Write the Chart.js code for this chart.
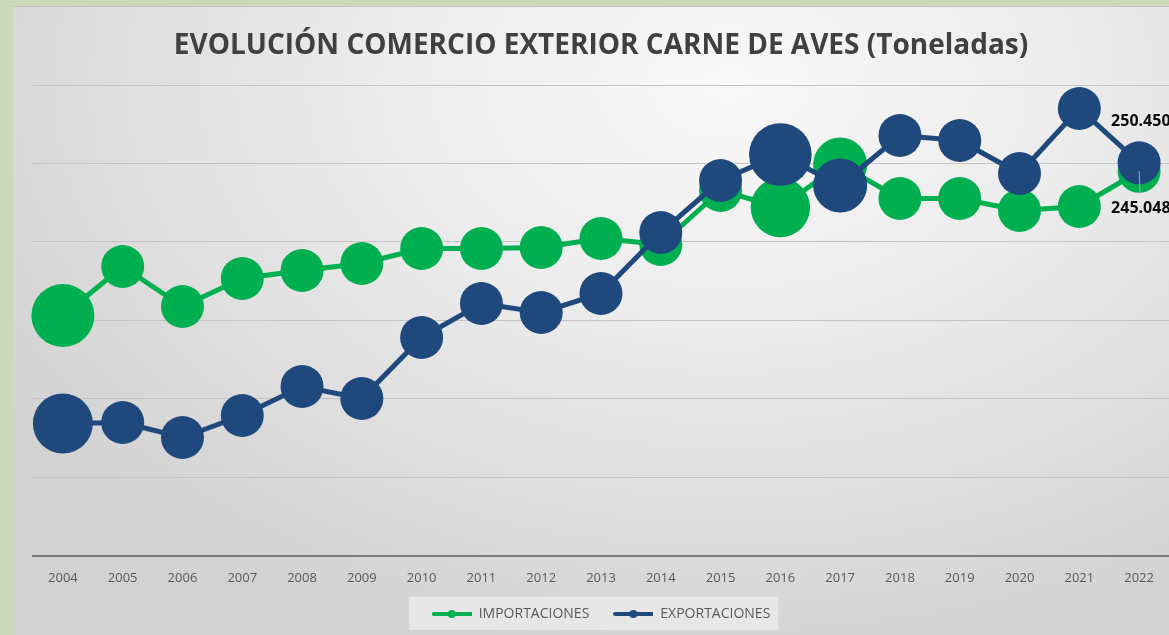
<!DOCTYPE html>
<html>
<head>
<meta charset="utf-8">
<script src="https://cdn.jsdelivr.net/npm/chart.js@4.4.1/dist/chart.umd.min.js"></script>
<style>
    html, body { margin: 0; padding: 0; }
    body { width: 1169px; height: 635px; background: #cbd9b8; position: relative; overflow: hidden; }
    #panel {
        position: absolute; left: 13px; top: 6px; width: 1156px; height: 629px;
        border-top: 1px solid #c2c2c2;
        background: radial-gradient(ellipse 75% 95% at 62% 12%, #f8f8f8 0%, #ececec 40%, #dadada 80%, #d2d2d2 100%);
    }
</style>
</head>
<body>
<div id="panel"><canvas id="chart"></canvas></div>
<script>
// datos (toneladas)
const years = ['2004','2005','2006','2007','2008','2009','2010','2011','2012','2013',
               '2014','2015','2016','2017','2018','2019','2020','2021','2022'];
const importaciones = [153062, 184313, 158802, 176660, 181762, 186226, 195792, 195792, 196430, 202170,
                       198343, 232782, 221940, 249364, 227680, 227680, 220027, 222578, 245048];
const exportaciones = [84184, 84822, 75256, 89286, 107781, 100128, 139032, 160716, 154976, 167093,
                       205996, 239160, 255742, 235971, 267859, 264670, 243624, 285079, 250450];

const GREEN = '#00b050';
const BLUE = '#1f497d';

function legendMarker(color) {
    var c = document.createElement('canvas');
    c.width = 40; c.height = 10;
    var g = c.getContext('2d');
    g.strokeStyle = color; g.lineWidth = 4; g.lineCap = 'round';
    g.beginPath(); g.moveTo(2, 5); g.lineTo(39, 5); g.stroke();
    g.fillStyle = color;
    g.beginPath(); g.arc(20, 5, 4, 0, Math.PI * 2); g.fill();
    return c;
}
const markers = [legendMarker(GREEN), legendMarker(BLUE)];

function fmt(v) {
    return String(v).replace(/\B(?=(\d{3})+(?!\d))/g, '.');
}

// fondo del recuadro de la leyenda
const legendBox = {
    id: 'legendBox',
    beforeDraw(chart) {
        var boxes = chart.legend.legendHitBoxes;
        if (!boxes || !boxes.length) return;
        var l = Math.min(...boxes.map(b => b.left)) - 23;
        var r = Math.max(...boxes.map(b => b.left + b.width)) + 8;
        var ctx = chart.ctx;
        ctx.save();
        ctx.fillStyle = 'rgba(232,232,232,0.95)';
        ctx.fillRect(l, 590, r - l, 33);
        ctx.restore();
    }
};

// etiquetas del ultimo año
const lastLabels = {
    id: 'lastLabels',
    afterDatasetsDraw(chart) {
        var ctx = chart.ctx;
        var n = years.length - 1;
        var pImp = chart.getDatasetMeta(0).data[n];
        var pExp = chart.getDatasetMeta(1).data[n];
        ctx.save();
        ctx.strokeStyle = '#a6a6a6';
        ctx.lineWidth = 1;
        ctx.beginPath();
        ctx.moveTo(pImp.x, pImp.y);
        ctx.lineTo(pImp.x + 1, pImp.y + 22);
        ctx.stroke();
        ctx.font = 'bold 16px "Open Sans"';
        ctx.fillStyle = '#0d0d0d';
        ctx.textBaseline = 'middle';
        ctx.textAlign = 'left';
        ctx.fillText(fmt(exportaciones[n]), pExp.x - 28, pExp.y - 41);
        ctx.fillText(fmt(importaciones[n]), pImp.x - 28, pImp.y + 37);
        ctx.restore();
    }
};

new Chart('chart', {
    type: 'line',
    data: {
        labels: years,
        datasets: [{
            label: 'IMPORTACIONES',
            data: importaciones,
            borderColor: GREEN,
            backgroundColor: GREEN,
            borderWidth: 5,
            pointBorderWidth: 0,
            pointRadius: [31.5, 21.5, 21.5, 21.5, 21.5, 21.5, 21.5, 21.5, 21.5, 21.5,
                          21.5, 21.5, 29.7, 27, 21.5, 21.5, 21.5, 21.5, 21.5],
            lineTension: 0,
            order: 1
        },
        {
            label: 'EXPORTACIONES',
            data: exportaciones,
            borderColor: BLUE,
            backgroundColor: BLUE,
            borderWidth: 5,
            pointBorderWidth: 0,
            pointRadius: [30, 21.5, 21.5, 21.5, 21.5, 21.5, 21.5, 21.5, 21.5, 21.5,
                          21.5, 21.5, 31.3, 27, 21.5, 21.5, 21.5, 21.5, 21.5],
            lineTension: 0,
            order: 0
        }]
    },
    options: {
        responsive: true,
        maintainAspectRatio: false,
        animation: false,
        clip: false,
        layout: { autoPadding: false, padding: { left: 20, right: 0, top: 0, bottom: 5 } },
        plugins: {
            tooltip: { enabled: false },
            title: {
                display: true,
                text: 'EVOLUCIÓN COMERCIO EXTERIOR CARNE DE AVES (Toneladas)',
                color: '#404040',
                font: { family: 'Open Sans', size: 28, weight: 'bold', lineHeight: 1.2 },
                padding: { top: 22, bottom: 22.5 }
            },
            legend: {
                position: 'bottom',
                labels: {
                    usePointStyle: true,
                    pointStyleWidth: 40,
                    padding: 24,
                    color: '#595959',
                    font: { family: 'Open Sans', size: 14 },
                    sort: (a, b) => a.datasetIndex - b.datasetIndex,
                    generateLabels(chart) {
                        var items = Chart.defaults.plugins.legend.labels.generateLabels(chart);
                        items.forEach(it => { it.pointStyle = markers[it.datasetIndex]; });
                        return items;
                    }
                }
            }
        },
        scales: {
            x: {
                offset: true,
                grid: { display: false },
                border: { display: true, color: '#7a7a7a', width: 2 },
                ticks: { color: '#595959', padding: 7, font: { family: 'Open Sans', size: 13 } },
                afterFit(scale) { scale.height = 27.5; }
            },
            y: {
                min: 0,
                max: 300000,
                border: { display: false },
                grid: {
                    drawTicks: false,
                    color: ctx => ctx.tick.value === 0 ? 'rgba(0,0,0,0)' : '#c4c4c4',
                    lineWidth: 1
                },
                ticks: { display: false, stepSize: 50000 },
                afterFit(scale) { scale.width = 0; }
            }
        }
    },
    plugins: [legendBox, lastLabels]
});
</script>
</body>
</html>
